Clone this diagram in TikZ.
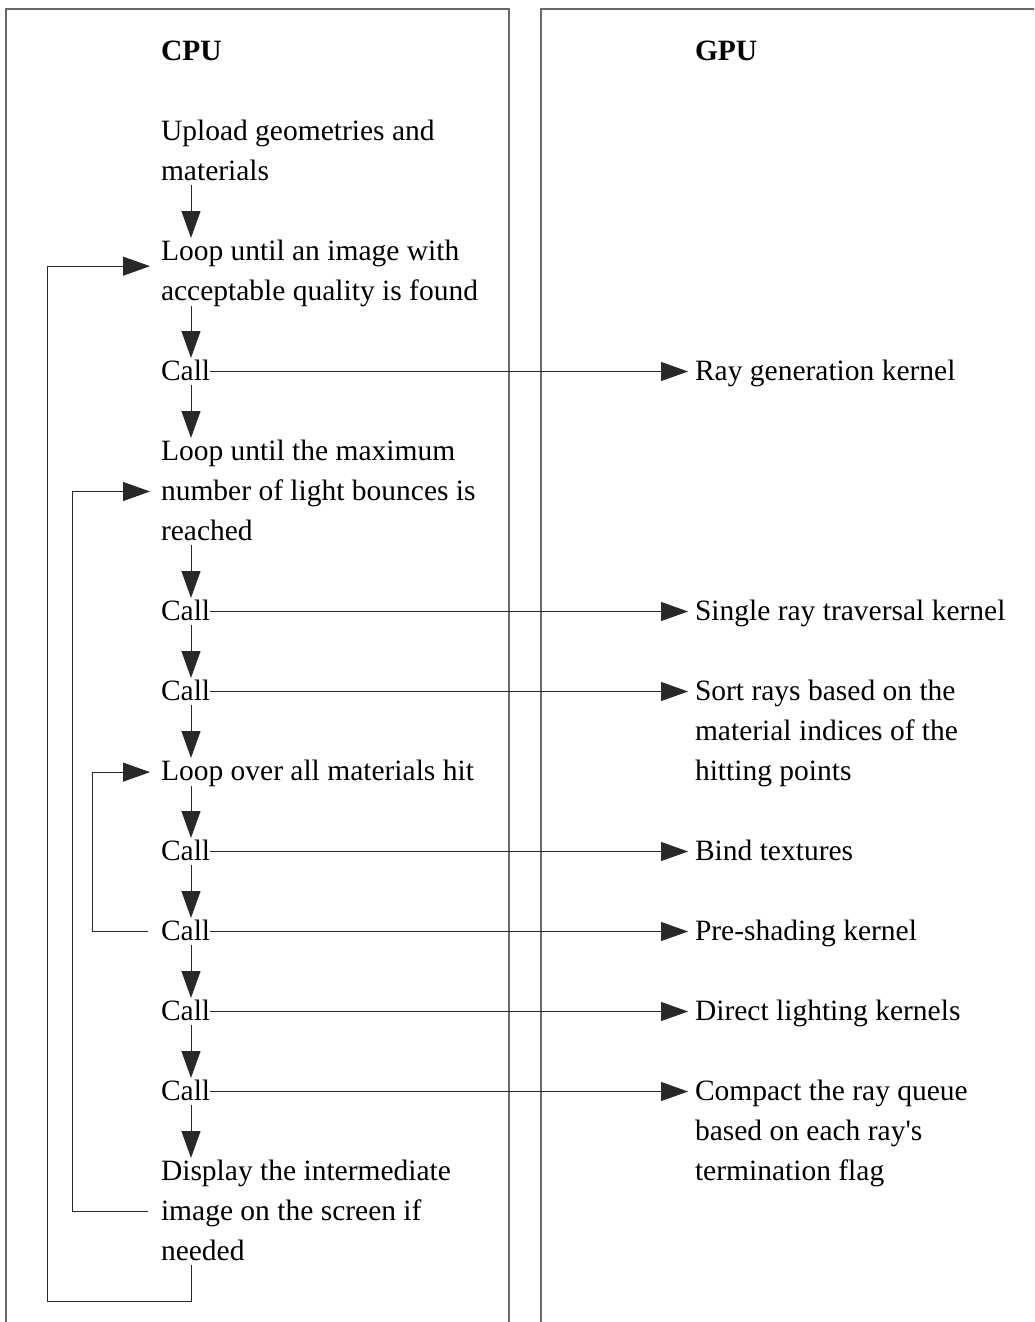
\documentclass[tikz,border=0pt]{standalone}
\usepackage{fontspec}
\setmainfont{Liberation Serif}[Ligatures=TeXOff]
\usetikzlibrary{arrows.meta}
\definecolor{panelgray}{RGB}{105,105,105}
\definecolor{linegray}{RGB}{40,40,40}
\newcommand{\Ln}[1]{\hbox{\rule[-5pt]{0pt}{27pt}#1}}
\newcommand{\Txt}{\fontsize{29.5pt}{40pt}\selectfont}
\begin{document}
\begin{tikzpicture}[x=1pt,y=-1pt,
  panel/.style={draw=panelgray, line width=1.3pt},
  lbl/.style={anchor=base west, inner sep=0pt, outer sep=0pt, font=\Txt},
  flow/.style={draw=linegray, line width=0.9pt, -{Triangle[length=27pt,width=19pt]}},
  back/.style={flow, shorten >=11pt},
  call/.style={flow, shorten >=7pt}]
\clip (0,0) rectangle (1034,1322);
\draw[panel] (6,1330) -- (6,9) -- (509,9) -- (509,1330);
\draw[panel] (541,1330) -- (541,9) -- (1040,9);

% CPU column
\node[lbl, font=\Txt\bfseries] (cpu) at (161,60) {\Ln{CPU}};
\node[lbl] (upload) at (161,140) {\vtop{\Ln{Upload geometries and}\Ln{materials}}};
\node[lbl] (loop1) at (161,260) {\vtop{\Ln{Loop until an image with}\Ln{acceptable quality is found}}};
\node[lbl] (c1) at (161,380) {\Ln{Call}};
\node[lbl] (loop2) at (161,460) {\vtop{\Ln{Loop until the maximum}\Ln{number of light bounces is}\Ln{reached}}};
\node[lbl] (c2) at (161,620) {\Ln{Call}};
\node[lbl] (c3) at (161,700) {\Ln{Call}};
\node[lbl] (loopmat) at (161,780) {\Ln{Loop over all materials hit}};
\node[lbl] (c4) at (161,860) {\Ln{Call}};
\node[lbl] (c5) at (161,940) {\Ln{Call}};
\node[lbl] (c6) at (161,1020) {\Ln{Call}};
\node[lbl] (c7) at (161,1100) {\Ln{Call}};
\node[lbl] (display) at (161,1180) {\vtop{\Ln{Display the intermediate}\Ln{image on the screen if}\Ln{needed}}};

% GPU column
\node[lbl, font=\Txt\bfseries] (gpu) at (695,60) {\Ln{GPU}};
\node[lbl] (ray) at (695,380) {\Ln{Ray generation kernel}};
\node[lbl] (single) at (695,620) {\Ln{Single ray traversal kernel}};
\node[lbl] (sort) at (695,700) {\vtop{\Ln{Sort rays based on the}\Ln{material indices of the}\Ln{hitting points}}};
\node[lbl] (bind) at (695,860) {\Ln{Bind textures}};
\node[lbl] (pre) at (695,940) {\Ln{Pre-shading kernel}};
\node[lbl] (direct) at (695,1020) {\Ln{Direct lighting kernels}};
\node[lbl] (compact) at (695,1100) {\vtop{\Ln{Compact the ray queue}\Ln{based on each ray's}\Ln{termination flag}}};

% helper coordinates
\coordinate (ax) at (191,0);
\coordinate (xo) at (47,0);
\coordinate (xm) at (72,0);
\coordinate (xi) at (92,0);
\coordinate (bot) at (0,1301);
\coordinate (l1in) at ([yshift=6pt]loop1.west);

% vertical flow
\draw[flow] (upload.south -| ax) -- (loop1.north -| ax);
\draw[flow] (loop1.south -| ax) -- (c1.north -| ax);
\draw[flow] (c1.south -| ax) -- (loop2.north -| ax);
\draw[flow] (loop2.south -| ax) -- (c2.north -| ax);
\draw[flow] (c2.south -| ax) -- (c3.north -| ax);
\draw[flow] (c3.south -| ax) -- (loopmat.north -| ax);
\draw[flow] (loopmat.south -| ax) -- (c4.north -| ax);
\draw[flow] (c4.south -| ax) -- (c5.north -| ax);
\draw[flow] (c5.south -| ax) -- (c6.north -| ax);
\draw[flow] (c6.south -| ax) -- (c7.north -| ax);
\draw[flow] (c7.south -| ax) -- (display.north -| ax);

% calls to GPU
\draw[call] (c1.east) -- (c1.east -| ray.west);
\draw[call] (c2.east) -- (c2.east -| single.west);
\draw[call] (c3.east) -- (c3.east -| sort.west);
\draw[call] (c4.east) -- (c4.east -| bind.west);
\draw[call] (c5.east) -- (c5.east -| pre.west);
\draw[call] (c6.east) -- (c6.east -| direct.west);
\draw[call] (c7.east) -- (c7.east -| compact.west);

% loops back
\draw[back] (display.south -| ax) -- (ax |- bot) -- (xo |- bot) -- (xo |- l1in) -- (l1in);
\draw[back, shorten <=13pt] (display.west) -- (xm |- display.west) -- (xm |- loop2.west) -- (loop2.west);
\draw[back, shorten <=13pt] (c5.west) -- (xi |- c5.west) -- (xi |- loopmat.west) -- (loopmat.west);
\end{tikzpicture}
\end{document}
